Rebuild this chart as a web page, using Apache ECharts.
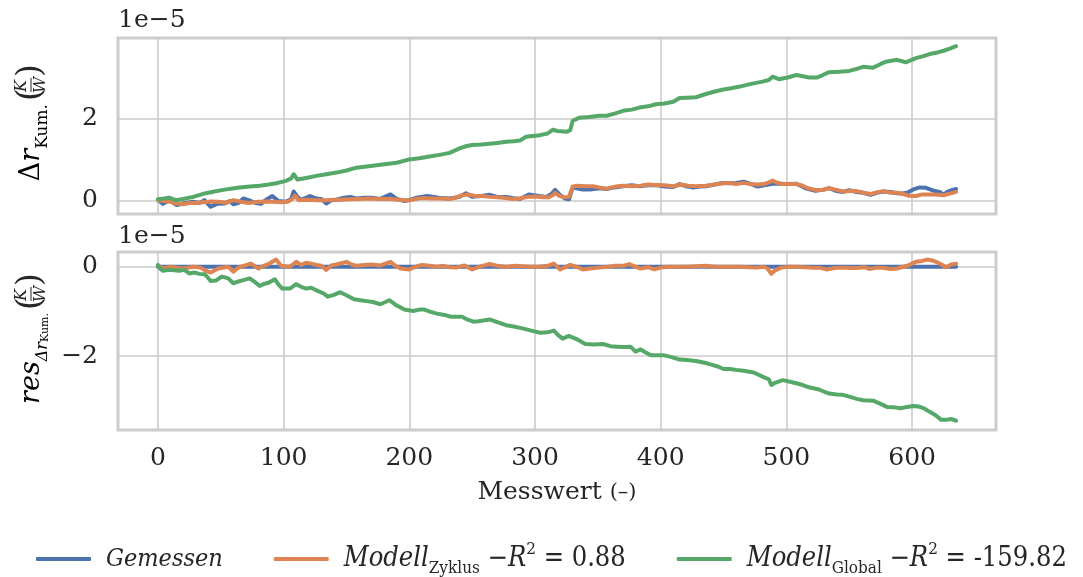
<!DOCTYPE html>
<html>
<head>
<meta charset="utf-8">
<script src="https://cdn.jsdelivr.net/npm/echarts@6/dist/echarts.min.js"></script>
<style>
  html, body { margin: 0; padding: 0; background: #fff; }
  #chart { width: 1083px; height: 577px; }
</style>
</head>
<body>
<div id="chart"></div>
<script>
// alle Werte in Einheiten von 1e-5 K/W, Paare [Messwert, Wert]
const gemessen = [
  [0,0.03],[4,-0.07],[9,0.02],[15,-0.10],[20,-0.06],[28,-0.02],[33,-0.05],[37,0.02],[42,-0.14],[47,-0.07],
  [53,-0.06],[57,0.00],[60,-0.08],[64,-0.05],[68,0.06],[74,0.00],[78,-0.05],[82,-0.07],[87,0.05],[91,0.12],
  [96,0.00],[102,-0.02],[106,0.05],[108,0.23],[111,0.10],[114,0.03],[121,0.12],[126,0.06],[130,0.05],[134,-0.06],
  [138,0.02],[142,0.03],[148,0.08],[153,0.10],[158,0.06],[164,0.08],[170,0.08],[177,0.05],[185,0.16],[190,0.05],
  [196,0.00],[201,0.03],[206,0.08],[214,0.12],[220,0.10],[225,0.07],[232,0.06],[240,0.10],[245,0.19],[250,0.10],
  [257,0.12],[264,0.15],[270,0.10],[277,0.10],[283,0.07],[288,0.05],[295,0.16],[303,0.12],[309,0.10],[313,0.17],
  [316,0.27],[320,0.14],[324,0.06],[327,0.04],[330,0.33],[334,0.30],[338,0.28],[344,0.28],[351,0.31],[357,0.29],
  [363,0.33],[370,0.36],[377,0.38],[383,0.36],[390,0.38],[396,0.39],[403,0.35],[410,0.34],[415,0.41],[420,0.36],
  [426,0.33],[431,0.35],[436,0.36],[443,0.40],[449,0.44],[455,0.43],[460,0.44],[466,0.47],[471,0.42],[477,0.35],
  [482,0.38],[486,0.40],[489,0.42],[494,0.42],[501,0.41],[508,0.42],[512,0.36],[516,0.30],[523,0.25],[529,0.27],
  [534,0.31],[540,0.24],[545,0.22],[550,0.26],[556,0.22],[561,0.20],[567,0.15],[572,0.20],[577,0.23],[583,0.22],
  [588,0.19],[592,0.18],[596,0.20],[601,0.28],[606,0.33],[611,0.32],[617,0.25],[622,0.22],[625,0.15],[628,0.22],
  [632,0.27],[635,0.29]
];
const modellZyklus = [
  [0,0.02],[5,0.00],[10,-0.02],[15,-0.06],[20,-0.08],[25,-0.05],[30,-0.05],[36,-0.03],[42,-0.01],[48,-0.02],
  [55,-0.04],[60,0.02],[66,-0.02],[72,-0.05],[80,-0.02],[86,-0.01],[92,-0.02],[98,-0.03],[104,-0.01],[107,0.05],
  [109,0.13],[112,0.02],[118,0.03],[126,0.02],[133,0.02],[140,0.03],[146,0.03],[152,0.04],[160,0.05],[168,0.06],
  [176,0.05],[184,0.05],[192,0.03],[198,0.01],[204,0.04],[210,0.07],[218,0.06],[225,0.06],[232,0.05],[237,0.08],
  [242,0.14],[247,0.16],[252,0.12],[258,0.12],[264,0.10],[270,0.09],[277,0.07],[282,0.05],[288,0.06],[294,0.10],
  [300,0.11],[306,0.09],[311,0.09],[314,0.14],[316,0.20],[319,0.13],[323,0.09],[327,0.10],[330,0.35],[334,0.37],
  [340,0.36],[346,0.36],[351,0.33],[357,0.30],[364,0.35],[370,0.37],[377,0.36],[384,0.37],[390,0.40],[396,0.39],
  [403,0.38],[410,0.36],[416,0.40],[422,0.37],[428,0.36],[436,0.37],[443,0.40],[450,0.43],[455,0.44],[460,0.41],
  [466,0.44],[471,0.41],[477,0.40],[482,0.41],[486,0.45],[489,0.50],[492,0.45],[497,0.41],[503,0.41],[508,0.41],
  [513,0.37],[517,0.31],[523,0.27],[529,0.27],[534,0.31],[540,0.27],[545,0.23],[551,0.24],[556,0.24],[561,0.20],
  [567,0.17],[572,0.21],[577,0.24],[583,0.20],[588,0.20],[593,0.17],[597,0.13],[603,0.12],[608,0.16],[613,0.16],
  [619,0.16],[625,0.14],[630,0.18],[635,0.22]
];
const modellGlobal = [
  [0,0.04],[5,0.06],[9,0.08],[14,0.02],[20,0.05],[28,0.10],[38,0.19],[45,0.23],[52,0.27],[58,0.30],
  [65,0.33],[73,0.35],[81,0.37],[88,0.40],[94,0.43],[102,0.49],[106,0.55],[108,0.65],[111,0.52],[118,0.56],
  [126,0.61],[134,0.65],[142,0.69],[150,0.74],[158,0.81],[166,0.84],[174,0.87],[182,0.90],[190,0.93],[200,1.01],
  [208,1.04],[216,1.08],[224,1.12],[232,1.17],[240,1.28],[245,1.33],[250,1.36],[257,1.37],[264,1.39],[270,1.41],
  [277,1.44],[283,1.45],[288,1.47],[293,1.56],[298,1.58],[304,1.60],[310,1.64],[314,1.73],[318,1.70],[325,1.68],
  [328,1.72],[330,1.95],[335,2.02],[343,2.04],[351,2.07],[357,2.07],[364,2.13],[370,2.19],[377,2.22],[383,2.27],
  [390,2.30],[396,2.35],[403,2.37],[410,2.41],[415,2.50],[421,2.51],[428,2.52],[436,2.60],[443,2.66],[450,2.71],
  [456,2.74],[463,2.78],[471,2.84],[481,2.90],[486,2.94],[489,3.02],[494,2.96],[501,3.00],[508,3.06],[513,3.03],
  [518,3.00],[524,3.00],[529,3.06],[534,3.13],[542,3.14],[550,3.16],[556,3.21],[561,3.26],[569,3.24],[575,3.33],
  [580,3.39],[588,3.43],[595,3.37],[603,3.47],[609,3.52],[614,3.57],[619,3.60],[625,3.65],[630,3.70],[635,3.76]
];
const resGemessen = [[0,0],[635,0]];
const resZyklus = [
  [0,0.03],[4,-0.04],[10,0.00],[15,-0.02],[20,-0.04],[28,0.00],[34,-0.02],[38,-0.09],[42,-0.13],[48,-0.04],
  [56,0.00],[60,-0.11],[64,-0.02],[68,0.02],[74,0.07],[80,-0.04],[84,0.02],[88,0.06],[94,0.16],[98,0.02],
  [105,0.00],[110,0.11],[114,0.04],[118,0.09],[122,0.07],[126,0.04],[130,0.02],[134,-0.07],[138,0.03],[142,0.05],
  [150,0.11],[154,0.05],[158,0.02],[164,0.04],[170,0.05],[177,0.03],[185,0.11],[189,0.02],[193,-0.04],[200,-0.06],
  [205,0.00],[210,0.04],[216,0.02],[222,0.00],[227,0.02],[232,-0.01],[237,-0.02],[244,0.03],[250,-0.06],[258,0.02],
  [264,0.06],[270,0.02],[277,0.00],[284,0.02],[290,0.01],[297,0.00],[303,0.00],[310,0.02],[315,0.07],[320,-0.06],
  [324,-0.01],[328,0.04],[333,0.00],[338,-0.06],[344,-0.04],[351,-0.02],[358,0.00],[364,0.02],[370,0.02],[375,0.06],
  [380,0.00],[384,-0.04],[390,-0.01],[395,-0.06],[400,-0.02],[405,0.00],[412,0.00],[420,0.00],[428,0.01],[436,0.02],
  [443,0.00],[449,0.00],[456,0.00],[463,0.00],[470,-0.01],[476,-0.02],[482,0.00],[485,-0.04],[488,-0.16],[491,-0.08],
  [496,-0.02],[502,0.00],[508,0.00],[514,-0.01],[520,-0.02],[526,-0.02],[532,-0.06],[538,-0.03],[545,-0.02],[551,-0.03],
  [556,-0.03],[562,-0.01],[566,-0.05],[572,-0.02],[578,-0.03],[583,-0.05],[588,-0.04],[593,0.00],[597,0.03],[603,0.11],
  [608,0.13],[612,0.16],[616,0.14],[620,0.10],[624,0.04],[627,-0.01],[631,0.05],[635,0.07]
];
const resGlobal = [
  [0,0.04],[2,-0.05],[4,-0.09],[9,-0.07],[13,-0.08],[17,-0.09],[21,-0.07],[25,-0.15],[29,-0.13],[33,-0.16],
  [37,-0.17],[39,-0.22],[42,-0.32],[46,-0.31],[51,-0.22],[56,-0.26],[60,-0.37],[64,-0.33],[68,-0.30],[73,-0.26],
  [77,-0.34],[81,-0.43],[85,-0.38],[88,-0.36],[93,-0.28],[96,-0.40],[99,-0.49],[105,-0.49],[110,-0.39],[114,-0.45],
  [118,-0.49],[122,-0.47],[127,-0.54],[132,-0.60],[135,-0.67],[140,-0.63],[145,-0.57],[150,-0.64],[156,-0.73],[161,-0.75],
  [166,-0.77],[171,-0.79],[177,-0.84],[181,-0.79],[184,-0.75],[189,-0.85],[196,-0.96],[203,-0.99],[208,-0.96],[212,-0.96],
  [217,-1.01],[222,-1.05],[228,-1.08],[233,-1.12],[237,-1.12],[242,-1.12],[246,-1.18],[251,-1.23],[255,-1.22],[260,-1.20],
  [264,-1.18],[270,-1.24],[277,-1.31],[283,-1.34],[290,-1.38],[297,-1.43],[304,-1.48],[310,-1.47],[315,-1.43],[318,-1.52],
  [322,-1.61],[327,-1.55],[333,-1.62],[340,-1.73],[347,-1.74],[354,-1.73],[360,-1.78],[365,-1.79],[371,-1.80],[376,-1.79],
  [380,-1.90],[384,-1.85],[388,-1.92],[392,-1.98],[397,-1.98],[402,-1.98],[408,-2.02],[415,-2.08],[421,-2.09],[428,-2.11],
  [435,-2.15],[441,-2.20],[446,-2.24],[450,-2.29],[455,-2.29],[460,-2.31],[466,-2.33],[474,-2.37],[481,-2.46],[486,-2.52],
  [488,-2.65],[491,-2.60],[497,-2.54],[502,-2.57],[508,-2.61],[513,-2.65],[518,-2.70],[526,-2.75],[530,-2.80],[534,-2.84],
  [540,-2.86],[545,-2.87],[550,-2.91],[556,-2.96],[561,-2.99],[569,-3.00],[574,-3.06],[580,-3.14],[586,-3.15],[591,-3.17],
  [596,-3.14],[601,-3.12],[605,-3.13],[610,-3.18],[614,-3.25],[619,-3.33],[623,-3.43],[627,-3.43],[631,-3.41],[635,-3.45]
];
const xTicks = [0, 100, 200, 300, 400, 500, 600];
const yTicksTop = [0, 2];
const yTicksBottom = [-2, 0];
const r2Zyklus = '0.88';
const r2Global = '-159.82';

const SERIF = "'DejaVu Serif', serif";
const LEG_FONT = "'DejaVu Serif Condensed', 'DejaVu Serif', serif";
const TXT = '#262626';
const GRIDC = '#cccccc';
const COLORS = ['#4c72b0', '#dd8452', '#55a868'];

function fmtY(v) {
  return v < 0 ? '\u2212' + Math.abs(v) : String(v);
}

function xAxisCfg(gi, showLabel) {
  return {
    type: 'value', gridIndex: gi, min: -31.75, max: 666.75,
    axisLine: { show: false },
    axisTick: { show: false, customValues: xTicks },
    axisLabel: { show: showLabel, customValues: xTicks, color: TXT, fontFamily: SERIF, fontSize: 25, margin: 16 },
    splitLine: { show: true, lineStyle: { color: GRIDC, width: 1.6 } },
    name: showLabel ? '{a|Messwert }{b|(\u2013)}' : '',
    nameLocation: 'middle', nameGap: 50,
    nameTextStyle: {
      rich: {
        a: { fontFamily: SERIF, fontSize: 25, color: TXT },
        b: { fontFamily: SERIF, fontSize: 21, color: TXT }
      }
    }
  };
}

function yAxisCfg(gi, min, max, ticks) {
  return {
    type: 'value', gridIndex: gi, min: min, max: max,
    axisLine: { show: false },
    axisTick: { show: false, customValues: ticks },
    axisLabel: { customValues: ticks, color: TXT, fontFamily: SERIF, fontSize: 25, margin: 20, formatter: fmtY },
    splitLine: { show: true, lineStyle: { color: GRIDC, width: 1.6 } }
  };
}

function lineSeries(name, data, idx, color) {
  return {
    name: name, type: 'line', data: data,
    xAxisIndex: idx, yAxisIndex: idx,
    showSymbol: false, symbol: 'none', animation: false,
    lineStyle: { color: color, width: 4, cap: 'round', join: 'round' },
    itemStyle: { color: color }
  };
}

const richLbl = {
  n: { fontFamily: SERIF, fontSize: 27, color: TXT, lineHeight: 38, verticalAlign: 'middle' },
  it: { fontFamily: SERIF, fontStyle: 'italic', fontSize: 27, color: TXT, lineHeight: 38, verticalAlign: 'middle' },
  sub: { fontFamily: SERIF, fontSize: 17, color: TXT, lineHeight: 16, verticalAlign: 'bottom' },
  subi: { fontFamily: SERIF, fontStyle: 'italic', fontSize: 16, color: TXT, lineHeight: 17, verticalAlign: 'bottom' },
  subsub: { fontFamily: SERIF, fontSize: 11, color: TXT, lineHeight: 7, verticalAlign: 'bottom' }
};

const legRich = {
  g: { fontFamily: LEG_FONT, fontStyle: 'italic', fontSize: 25, color: TXT, lineHeight: 36, verticalAlign: 'middle' },
  it: { fontFamily: LEG_FONT, fontStyle: 'italic', fontSize: 27, color: TXT, lineHeight: 36, verticalAlign: 'middle' },
  n: { fontFamily: LEG_FONT, fontSize: 27, color: TXT, lineHeight: 36, verticalAlign: 'middle' },
  sub: { fontFamily: LEG_FONT, fontSize: 17, color: TXT, lineHeight: 17, verticalAlign: 'bottom' },
  sup: { fontFamily: LEG_FONT, fontSize: 17, color: TXT, lineHeight: 17, verticalAlign: 'top' }
};

// Bruch (K/W) in runden Klammern, lokal horizontal aufgebaut, danach mit der Gruppe gedreht
function fracParts(x0) {
  return [
    { type: 'text', x: x0, y: -1, style: { text: '(', fontFamily: SERIF, fontSize: 33, fill: TXT, align: 'left', verticalAlign: 'middle' } },
    { type: 'text', x: x0 + 15, y: -10, style: { text: 'K', fontFamily: SERIF, fontStyle: 'italic', fontSize: 16, fill: TXT, align: 'center', verticalAlign: 'middle' } },
    { type: 'line', shape: { x1: x0 + 9, y1: -1, x2: x0 + 23, y2: -1 }, style: { stroke: TXT, lineWidth: 1 } },
    { type: 'text', x: x0 + 16, y: 9, style: { text: 'W', fontFamily: SERIF, fontStyle: 'italic', fontSize: 16, fill: TXT, align: 'center', verticalAlign: 'middle' } },
    { type: 'text', x: x0 + 24, y: -1, style: { text: ')', fontFamily: SERIF, fontSize: 33, fill: TXT, align: 'left', verticalAlign: 'middle' } }
  ];
}

const chart = echarts.init(document.getElementById('chart'), null, { renderer: 'canvas' });
chart.setOption({
  backgroundColor: '#ffffff',
  animation: false,
  grid: [
    { left: 118, top: 38, width: 878, height: 176, show: true, borderColor: GRIDC, borderWidth: 3, backgroundColor: '#fff' },
    { left: 118, top: 252, width: 878, height: 178, show: true, borderColor: GRIDC, borderWidth: 3, backgroundColor: '#fff' }
  ],
  xAxis: [xAxisCfg(0, false), xAxisCfg(1, true)],
  yAxis: [
    yAxisCfg(0, -0.316, 3.96, yTicksTop),
    yAxisCfg(1, -3.657, 0.33, yTicksBottom)
  ],
  legend: {
    left: 31, top: 536,
    icon: 'roundRect', itemWidth: 55, itemHeight: 4, itemGap: 51,
    data: ['Gemessen', 'Modell Zyklus', 'Modell Global'],
    textStyle: { padding: [0, 0, 0, 10], rich: legRich },
    formatter: function (name) {
      if (name === 'Gemessen') return '{g|Gemessen}';
      if (name === 'Modell Zyklus') return '{it|Modell}{sub|Zyklus}{n| \u2212}{it|R}{sup|2}{n| = ' + r2Zyklus + '}';
      return '{it|Modell}{sub|Global}{n| \u2212}{it|R}{sup|2}{n| = ' + r2Global + '}';
    }
  },
  graphic: [
    { type: 'text', left: 118, top: 8, style: { text: '1e\u22125', fontFamily: SERIF, fontSize: 25, fill: TXT } },
    { type: 'text', left: 118, top: 224, style: { text: '1e\u22125', fontFamily: SERIF, fontSize: 25, fill: TXT } },
    {
      type: 'group', x: 32, y: 127, rotation: Math.PI / 2,
      children: [
        {
          type: 'text', x: 23, y: 0,
          style: { text: '{n|\u0394}{it|r}{sub|Kum.}', rich: richLbl, align: 'right', verticalAlign: 'middle' }
        }
      ].concat(fracParts(26))
    },
    {
      type: 'group', x: 32, y: 343, rotation: Math.PI / 2,
      children: [
        {
          type: 'text', x: 30, y: 0,
          style: { text: '{it|res}{subi|\u0394r}{subsub|Kum.}', rich: richLbl, align: 'right', verticalAlign: 'middle' }
        }
      ].concat(fracParts(33))
    }
  ],
  series: [
    lineSeries('Gemessen', gemessen, 0, COLORS[0]),
    lineSeries('Modell Zyklus', modellZyklus, 0, COLORS[1]),
    lineSeries('Modell Global', modellGlobal, 0, COLORS[2]),
    lineSeries('Gemessen', resGemessen, 1, COLORS[0]),
    lineSeries('Modell Zyklus', resZyklus, 1, COLORS[1]),
    lineSeries('Modell Global', resGlobal, 1, COLORS[2])
  ]
});
</script>
</body>
</html>
